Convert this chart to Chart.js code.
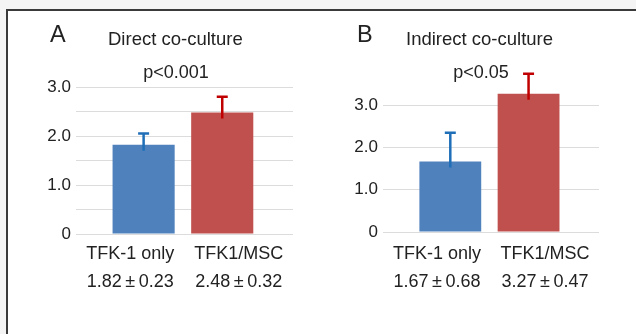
<!DOCTYPE html>
<html>
<head>
<meta charset="utf-8">
<script src="https://cdn.jsdelivr.net/npm/chart.js@4.4.0/dist/chart.umd.min.js"></script>
<style>
  html, body { margin:0; padding:0; background:#f4f4f4; }
  #fig { position:relative; width:636px; height:334px; overflow:hidden; }
  #frame { position:absolute; left:6px; top:9px; right:0; bottom:0; background:#fff;
           border-top:2px solid #3a3a3a; border-left:2px solid #3a3a3a; }
  .panel { position:absolute; top:0; height:334px; }
  .txt { position:absolute; white-space:nowrap; color:#222; font-family:"Liberation Sans", Arial, sans-serif; line-height:1; }
  .letter { font-size:23.5px; }
  .ttl { font-size:18.5px; }
  .pv { font-size:18px; transform:translateX(-50%); }
</style>
</head>
<body>
<div id="fig">
  <div id="frame"></div>
  <div class="panel" style="left:0;width:316px"><canvas id="chartA"></canvas></div>
  <div class="panel" style="left:316px;width:320px"><canvas id="chartB"></canvas></div>
  <div class="txt letter" style="left:50px;top:23px">A</div>
  <div class="txt ttl" style="left:108px;top:30px">Direct co-culture</div>
  <div class="txt pv" style="left:176px;top:63px">p&lt;0.001</div>
  <div class="txt letter" style="left:357px;top:23px">B</div>
  <div class="txt ttl" style="left:406px;top:30px">Indirect co-culture</div>
  <div class="txt pv" style="left:481px;top:63px">p&lt;0.05</div>
</div>
<script>
const categories = ['TFK-1 only', 'TFK1/MSC'];
const xPos = [1, 2];
const directMeans = [1.82, 2.48];
const directSD = [0.23, 0.32];
const indirectMeans = [1.67, 3.27];
const indirectSD = [0.68, 0.47];
const barColors = ['#4f81bd', '#c0504d'];
const errColors = ['#1f6fb8', '#c00000'];
const xMin = 0.14, xMax = 2.9;

// upper-only error bars, drawn from the sd arrays through the y scale
const errorBars = {
  id: 'errorBars',
  afterDatasetsDraw(chart, args, opts) {
    const ctx = chart.ctx, y = chart.scales.y;
    const meta = chart.getDatasetMeta(0);
    meta.data.forEach((bar, i) => {
      const top = y.getPixelForValue(opts.means[i] + opts.sds[i]);
      ctx.save();
      ctx.strokeStyle = errColors[i];
      ctx.lineWidth = 2.5;
      ctx.beginPath();
      ctx.moveTo(bar.x, bar.y + 6);
      ctx.lineTo(bar.x, top);
      ctx.moveTo(bar.x - 5.5, top);
      ctx.lineTo(bar.x + 5.5, top);
      ctx.stroke();
      ctx.restore();
    });
  }
};

function makeChart(id, means, sds, yMax, yW, padR, padT, xH, labPad) {
  const labels = categories.map((c, i) => [c, means[i].toFixed(2) + '\u2009\u00b1\u2009' + sds[i].toFixed(2)]);
  // category labels sit at the middle of each half of the plot width
  const labelAt = categories.map((c, i) => xMin + (i + 0.5) / categories.length * (xMax - xMin));
  new Chart(document.getElementById(id).getContext('2d'), {
    type: 'bar',
    data: { datasets: [{
      data: xPos.map((x, i) => ({ x, y: means[i] })),
      backgroundColor: barColors,
      borderWidth: 0,
      barPercentage: 0.79,
      categoryPercentage: 1
    }]},
    options: {
      responsive: true, maintainAspectRatio: false, animation: false,
      layout: { padding: { left: 0, right: padR, top: padT, bottom: 0 } },
      plugins: { legend: { display: false }, tooltip: { enabled: false },
        errorBars: { means, sds } },
      scales: {
        x: { type: 'linear', min: xMin, max: xMax, offset: false,
          afterBuildTicks(s) { s.ticks = labelAt.map(v => ({ value: v })); },
          afterFit(s) { s.height = xH; },
          grid: { display: false, drawTicks: false }, border: { display: false },
          ticks: { padding: labPad, color: '#222', autoSkip: false, maxRotation: 0,
            font: { family: '"Liberation Sans", Arial, sans-serif', size: 18, lineHeight: 1.556 },
            callback: (v, i) => labels[i] } },
        y: { min: 0, max: yMax,
          afterFit(s) { s.width = yW; },
          grid: { color: '#dcdcdc', lineWidth: 1, drawTicks: false },
          border: { display: false },
          ticks: { stepSize: 0.5, padding: 5, color: '#222',
            font: { family: '"Liberation Sans", Arial, sans-serif', size: 17 },
            callback: (v) => v === 0 ? '0' : (v % 1 === 0 ? v.toFixed(1) : '') } }
      }
    },
    plugins: [errorBars]
  });
}

makeChart('chartA', directMeans, directSD, 3.0, 76, 23, 87, 100, 6);
makeChart('chartB', indirectMeans, indirectSD, 3.5, 67, 37, 84, 102, 8);
</script>
</body>
</html>
